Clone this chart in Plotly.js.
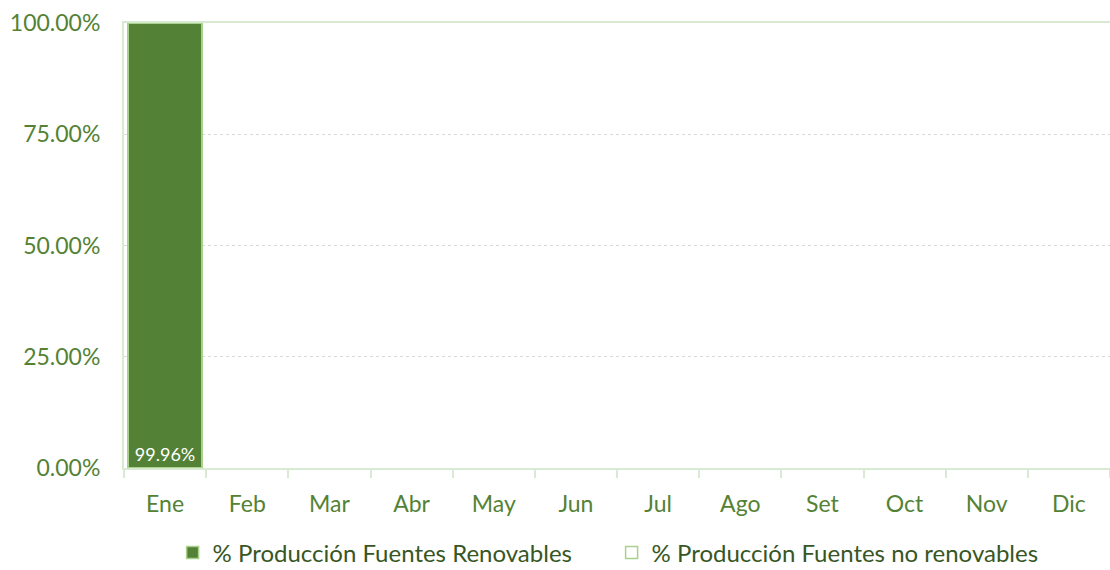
<!DOCTYPE html>
<html><head><meta charset="utf-8">
<script src="https://cdn.plot.ly/plotly-3.0.1.min.js"></script>
<style>body{margin:0;background:#fff}#c{width:1110px;height:570px}</style>
</head><body><div id="c"></div>
<script>
const months = ["Ene","Feb","Mar","Abr","May","Jun","Jul","Ago","Set","Oct","Nov","Dic"];
const renovables = [99.96,null,null,null,null,null,null,null,null,null,null,null];
const noRenovables = [0.04,null,null,null,null,null,null,null,null,null,null,null];
const yTicks = [0,25,50,75,100];
const FONT = "Lato, 'Open Sans', sans-serif";
const traces = [
  {type:'bar', name:'% Producción Fuentes Renovables', x:months, y:renovables,
   marker:{color:'#538135', line:{color:'#a9d18e', width:1.5}},
   text:renovables.map(v=>v==null?'':v.toFixed(2)+'%'), textposition:'inside', insidetextanchor:'start',
   textfont:{color:'#ffffff', size:18, family:FONT}, hoverinfo:'skip'},
  {type:'bar', name:'% Producción Fuentes no renovables', x:months, y:noRenovables,
   marker:{color:'#ffffff', line:{color:'#a9d18e', width:1.5}}, hoverinfo:'skip'}
];
const layout = {
  barmode:'stack', bargap:0.1, width:1110, height:570,
  margin:{l:124, r:0, t:23, b:102},
  paper_bgcolor:'#fff', plot_bgcolor:'#fff',
  font:{family:FONT, color:'#548235'},
  xaxis:{type:'category', tickfont:{size:23, color:'#548235'}, showline:true, linecolor:'#d9ead3', linewidth:2,
         mirror:true, ticks:'outside', tickson:'boundaries', ticklen:8, tickcolor:'#d9ead3', tickwidth:2, showgrid:false,
         ticklabelstandoff:14},
  yaxis:{range:[0,100], tickvals:yTicks, ticktext:yTicks.map(v=>v.toFixed(2)+'%'), tickfont:{size:23, color:'#548235'},
         showline:true, linecolor:'#d9ead3', linewidth:2, showgrid:true, gridcolor:'#d9d9d9', griddash:'dot', gridwidth:1,
         zeroline:false, ticks:'', ticklabelstandoff:17},
  legend:{orientation:'h', xref:'container', x:0.1555, xanchor:'left', yref:'container', y:0.03, yanchor:'middle',
          font:{size:24, color:'#375623', family:FONT}, itemwidth:30, entrywidth:394, traceorder:'normal'},
  showlegend:true
};
Plotly.newPlot('c', traces, layout, {displayModeBar:false, staticPlot:true});
</script></body></html>
